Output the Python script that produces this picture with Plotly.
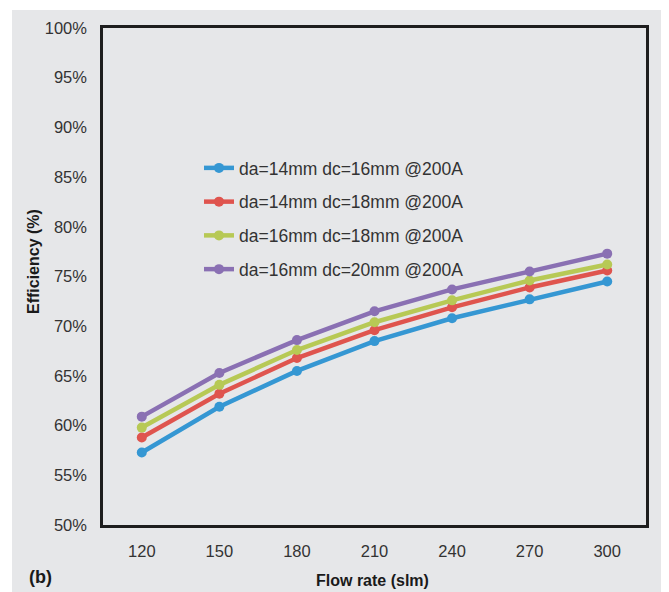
import plotly.graph_objects as go

flow_rates = ["120", "150", "180", "210", "240", "270", "300"]
series_names = [
    "da=14mm dc=16mm @200A",
    "da=14mm dc=18mm @200A",
    "da=16mm dc=18mm @200A",
    "da=16mm dc=20mm @200A",
]
eff_14_16 = [57.3, 61.9, 65.5, 68.5, 70.8, 72.7, 74.5]
eff_14_18 = [58.8, 63.2, 66.8, 69.6, 71.9, 73.9, 75.6]
eff_16_18 = [59.8, 64.1, 67.6, 70.4, 72.6, 74.6, 76.2]
eff_16_20 = [60.9, 65.3, 68.6, 71.5, 73.7, 75.5, 77.3]
colors = ["#3597d3", "#df544e", "#b7c955", "#8a70b3"]

series = [eff_14_16, eff_14_18, eff_16_18, eff_16_20]

BG = "#e6e7e9"
fig = go.Figure()
for i, (name, vals) in enumerate(zip(series_names, series)):
    fig.add_trace(go.Scatter(
        x=flow_rates, y=vals, name=name, mode="lines+markers",
        line=dict(color=colors[i], width=4.5),
        marker=dict(color=colors[i], size=10, symbol="circle"),
        legendgroup=f"g{i}",
    ))

# page has an 8px body margin; work in reference-window coordinates
OFF = 8
W, H = 669 - OFF, 592 - OFF
ml, mt = 103 - OFF, 28 - OFF
mr = W - (646 - OFF)
mb = H - (525 - OFF)
pw, ph = W - ml - mr, H - mt - mb

def px(x):
    return (x - OFF - ml) / pw

def py(y):
    return (H - mb - (y - OFF)) / ph

fig.add_shape(type="rect", xref="paper", yref="paper",
              x0=px(12), x1=px(665), y0=py(10), y1=py(600),
              fillcolor=BG, line=dict(width=0), layer="below")

TITLE_FONT = "Liberation Sans Narrow, Liberation Sans, Arial"
fig.update_layout(
    width=W, height=H,
    margin=dict(l=ml, r=mr, t=mt, b=mb, pad=0),
    paper_bgcolor="white", plot_bgcolor=BG,
    font=dict(family="Liberation Sans, Arial, sans-serif", size=16, color="#333333"),
    showlegend=True,
    legend=dict(x=px(199), y=py(150), xanchor="left", yanchor="top",
                bgcolor="rgba(0,0,0,0)", font=dict(size=17.5, color="#333333"),
                tracegroupgap=8, itemwidth=30),
    xaxis=dict(type="category", range=[-0.5, 6.5], showgrid=False, zeroline=False,
               showline=True, mirror=True, linecolor="#1e1e1e", linewidth=2.5,
               ticks="", ticklabelstandoff=9,
               tickfont=dict(size=16.5, color="#333333")),
    yaxis=dict(range=[50, 100], dtick=5, ticksuffix="%", showgrid=False, zeroline=False,
               showline=True, mirror=True, linecolor="#1e1e1e", linewidth=2.5,
               ticks="", ticklabelstandoff=10,
               tickfont=dict(size=16.5, color="#333333")),
    annotations=[
        dict(text="<b>Flow rate (slm)</b>", xref="paper", yref="paper",
             x=px(372), y=py(580), xanchor="center", yanchor="middle", showarrow=False,
             font=dict(family=TITLE_FONT, size=16, color="#1a1a1a")),
        dict(text="<b>Efficiency (%)</b>", xref="paper", yref="paper",
             x=px(33), y=py(262), xanchor="center", yanchor="middle", showarrow=False,
             textangle=-90,
             font=dict(family=TITLE_FONT, size=16, color="#1a1a1a")),
        dict(text="<b>(b)</b>", xref="paper", yref="paper",
             x=px(27), y=py(577), xanchor="left", yanchor="middle", showarrow=False,
             font=dict(family=TITLE_FONT, size=18, color="#1a1a1a")),
    ],
)

fig.write_html("out.html")
